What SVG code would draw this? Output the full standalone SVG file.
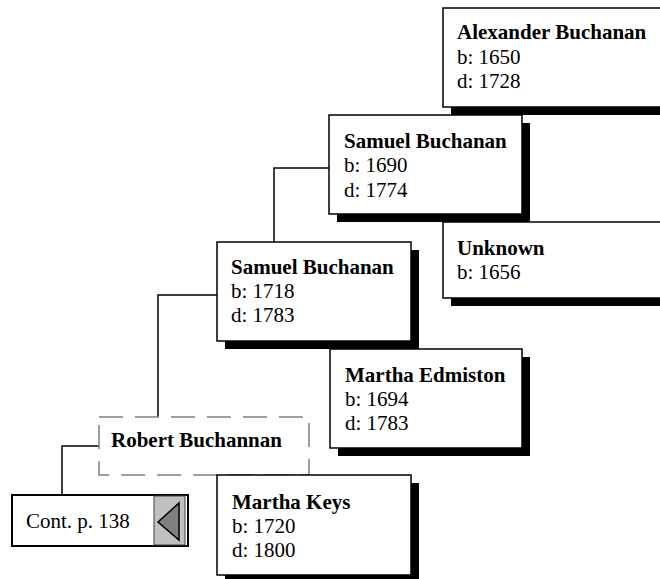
<svg xmlns="http://www.w3.org/2000/svg" width="660" height="579" viewBox="0 0 660 579">
<style>
text{font-family:"Liberation Serif","Times New Roman",serif;font-size:21px;fill:#000}
.n{font-weight:bold}
.box{fill:#fff;stroke:#000;stroke-width:1.5}
.sh{fill:#000}
.con{fill:none;stroke:#000;stroke-width:1.5}
</style>
<rect width="660" height="579" fill="#fff"/>
<g id="connectors">
<polyline class="con" points="274,242 274,168 329,168"/>
<polyline class="con" points="158,417 158,295 217,295"/>
<polyline class="con" points="62,495 62,446 99,446"/>
</g>
<g id="alexander">
<rect class="sh" x="451" y="16" width="240" height="99"/>
<rect class="box" x="443" y="8" width="240" height="99"/>
<text class="n" x="457" y="39">Alexander Buchanan</text>
<text x="457" y="64">b: 1650</text>
<text x="457" y="88">d: 1728</text>
</g>
<g id="unknown">
<rect class="sh" x="451" y="230" width="240" height="76"/>
<rect class="box" x="443" y="222" width="240" height="76"/>
<text class="n" x="457" y="255">Unknown</text>
<text x="457" y="279">b: 1656</text>
</g>
<g id="samuel1690">
<rect class="sh" x="337" y="123" width="193" height="99"/>
<rect class="box" x="329" y="115" width="193" height="99"/>
<text class="n" x="344" y="148">Samuel Buchanan</text>
<text x="344" y="172">b: 1690</text>
<text x="344" y="197">d: 1774</text>
</g>
<g id="marthaedmiston">
<rect class="sh" x="338" y="357" width="192" height="99"/>
<rect class="box" x="330" y="349" width="192" height="99"/>
<text class="n" x="345" y="382">Martha Edmiston</text>
<text x="345" y="406">b: 1694</text>
<text x="345" y="430">d: 1783</text>
</g>
<g id="samuel1718">
<rect class="sh" x="225" y="250" width="194" height="99"/>
<rect class="box" x="217" y="242" width="194" height="99"/>
<text class="n" x="231" y="274">Samuel Buchanan</text>
<text x="231" y="298">b: 1718</text>
<text x="231" y="322">d: 1783</text>
</g>
<g id="robert">
<rect x="99" y="417" width="210" height="58" fill="#fff" stroke="#808080" stroke-width="1.5" stroke-dasharray="24 12"/>
<text class="n" x="111" y="447">Robert Buchannan</text>
</g>
<g id="marthakeys">
<rect class="sh" x="225" y="483" width="194" height="100"/>
<rect class="box" x="217" y="475" width="194" height="100"/>
<text class="n" x="232" y="509">Martha Keys</text>
<text x="232" y="533">b: 1720</text>
<text x="232" y="557">d: 1800</text>
</g>
<g id="cont">
<rect x="12" y="495" width="176" height="51" fill="#fff" stroke="#000" stroke-width="2"/>
<rect x="154" y="496" width="31" height="49" fill="#c0c0c0" stroke="#404040" stroke-width="1"/>
<polygon points="158,522 179,503 179,540" fill="#808080" stroke="#000" stroke-width="1.5"/>
<text x="26" y="528">Cont. p. 138</text>
</g>
</svg>
